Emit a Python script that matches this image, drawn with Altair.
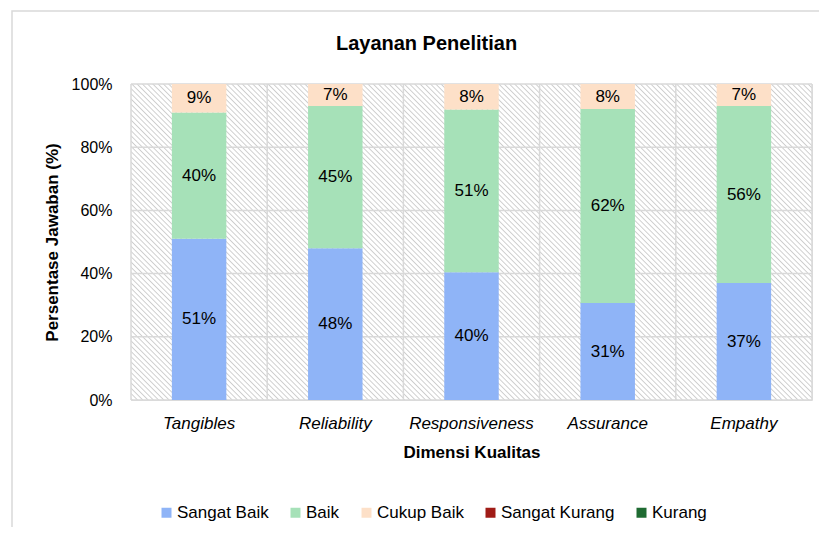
import math
import altair as alt
import pandas as pd

# ---------------- data ----------------
categories = ["Tangibles", "Reliability", "Responsiveness", "Assurance", "Empathy"]
levels = ["Sangat Baik", "Baik", "Cukup Baik", "Sangat Kurang", "Kurang"]
level_colors = ["#8fb4f7", "#a6e1b8", "#fde0c8", "#a01c17", "#1f6b32"]
sangat_baik = [51, 48, 40, 31, 37]
baik = [40, 45, 51, 62, 56]
cukup_baik = [9, 7, 8, 8, 7]
y_ticks = [0, 0.2, 0.4, 0.6, 0.8, 1.0]

rows = []
for i, c in enumerate(categories):
    for j, (lvl, vals) in enumerate(zip(levels[:3], [sangat_baik, baik, cukup_baik])):
        rows.append({"cat": c, "level": lvl, "value": vals[i], "ord": j})
df = pd.DataFrame(rows)

# ---------------- layout / style ----------------
W, H = 681, 316
FONT = "Liberation Sans, Arial, sans-serif"
GRID = "#d9d9d9"
HATCH = "#cdcdcd"
X_TITLE = "Dimensi Kualitas"
Y_TITLE = "Persentase Jawaban (%)"

# diagonal hatch for the plot background, built as a striped gradient
bw = W / len(categories)
a, b = bw / H, 1.0
t = (a + b) / (a * a + b * b)
L = (bw + H) / math.sqrt(2)
n = int(round(L / 3.7))
stops = []
for k in range(n):
    stops.append({"offset": k / n, "color": "#ffffff"})
    stops.append({"offset": (k + 0.25) / n, "color": HATCH})
    stops.append({"offset": (k + 0.5) / n, "color": "#ffffff"})
stops.append({"offset": 1.0, "color": "#ffffff"})
hatch = {"gradient": "linear", "x1": 0, "y1": 1, "x2": a * t, "y2": 1 - b * t,
         "stops": stops}

xscale = alt.Scale(domain=categories, paddingInner=0, paddingOuter=0)
yscale = alt.Scale(domain=[0, 1], nice=False)

xaxis = alt.Axis(
    labelFont=FONT, labelFontSize=17, labelFontStyle="italic", labelColor="#000000",
    labelAngle=0, labelPadding=15, ticks=False, domain=False, grid=False,
    titleFont=FONT, titleFontSize=17, titleFontWeight="bold", titleColor="#000000",
    titlePadding=13,
)
yaxis = alt.Axis(
    values=y_ticks, format=".0%", labelFont=FONT, labelFontSize=16, labelColor="#000000",
    labelPadding=19, ticks=False, domain=False, grid=False,
    titleFont=FONT, titleFontSize=17, titleFontWeight="bold", titleColor="#000000",
    titlePadding=10,
)


def X(field, **kw):
    return alt.X(field, sort=categories, scale=xscale, axis=xaxis, title=X_TITLE, **kw)


def Y(field):
    return alt.Y(field, scale=yscale, axis=yaxis, title=Y_TITLE)


bg = alt.Chart(pd.DataFrame({"cat": categories, "lo": [0.0] * 5, "hi": [1.0] * 5})).mark_rect(
    fill=hatch
).encode(x=X("cat:N"), y=Y("lo:Q"), y2="hi:Q")

hgrid = alt.Chart(pd.DataFrame({"t": y_ticks})).mark_rule(color=GRID, strokeWidth=1.5).encode(
    y=Y("t:Q")
)
vgrid = alt.Chart(pd.DataFrame({"cat": categories})).mark_rule(color=GRID, strokeWidth=1.5).encode(
    x=X("cat:N", bandPosition=0)
)
vgrid_end = alt.Chart(pd.DataFrame({"cat": categories[-1:]})).mark_rule(color=GRID, strokeWidth=1.5).encode(
    x=X("cat:N", bandPosition=1)
)

base = alt.Chart(df).transform_stack(
    stack="value", groupby=["cat"], as_=["v0", "v1"], offset="normalize",
    sort=[alt.SortField("ord", "ascending")],
).transform_calculate(
    mid="(datum.v0 + datum.v1) / 2", label="datum.value + '%'"
)

bars = base.mark_bar(width={"band": 0.4}).encode(
    x=X("cat:N"),
    y=Y("v0:Q"),
    y2="v1:Q",
    color=alt.Color(
        "level:N",
        scale=alt.Scale(domain=levels, range=level_colors),
        legend=alt.Legend(
            title=None, orient="none", legendX=27, legendY=420, direction="horizontal",
            columns=5, symbolType="square", symbolSize=100, symbolStrokeWidth=0,
            labelFont=FONT, labelFontSize=17, labelColor="#000000", labelOffset=2,
            columnPadding=18,
        ),
    ),
)

labels = base.mark_text(font=FONT, fontSize=17, color="#000000").encode(
    x=X("cat:N"),
    y=Y("mid:Q"),
    text="label:N",
)

border = alt.Chart(pd.DataFrame({"k": [0]})).mark_rect(
    fillOpacity=0, stroke="#d9d9d9", strokeWidth=1.5
).encode(
    x=alt.value(-119), x2=alt.value(W + 60), y=alt.value(-73), y2=alt.value(H + 200)
)

chart = alt.layer(bg, hgrid, vgrid, vgrid_end, bars, labels, border).properties(
    width=W, height=H,
    title=alt.TitleParams(
        "Layanan Penelitian", font=FONT, fontSize=20, fontWeight="bold", color="#000000",
        anchor="middle", frame="group", baseline="alphabetic", dx=-45, offset=-60,
    ),
    autosize=alt.AutoSizeParams(type="none"),
    padding={"left": 123, "top": 76, "right": 7, "bottom": 127},
).configure_view(stroke=None).configure(background="#ffffff")

chart.save("out.html", embed_options={"renderer": "svg", "actions": False})
